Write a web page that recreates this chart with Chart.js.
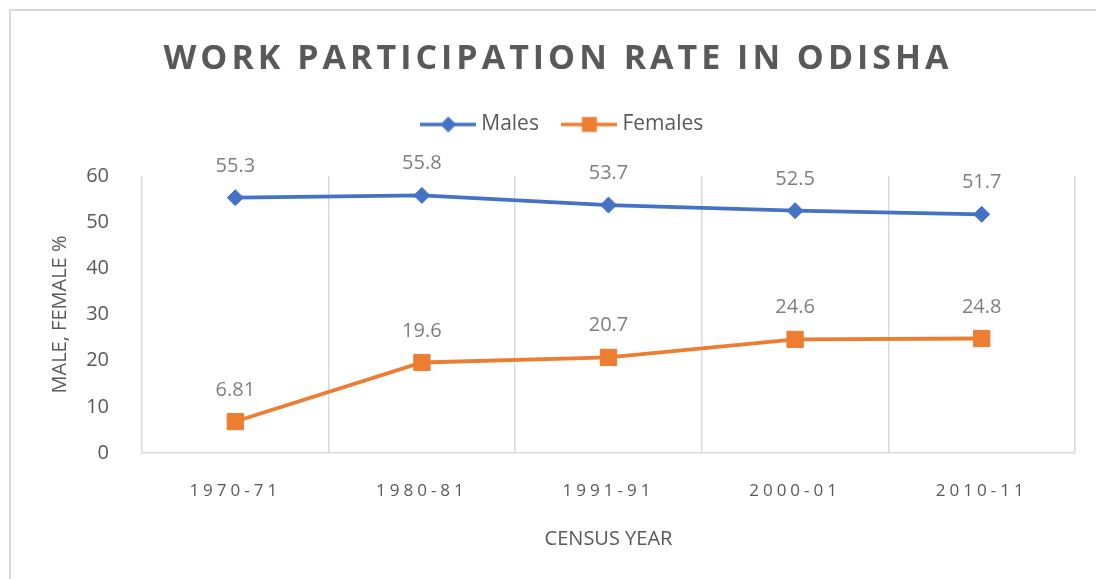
<!DOCTYPE html>
<html lang="en">
<head>
<meta charset="UTF-8">
<title>Work Participation Rate in Odisha</title>
<style>
  body { margin: 0; background: #fff; }
  .frame { position: relative; width: 1096px; height: 579px; overflow: hidden; }
  .edge { position: absolute; left: 9px; top: 9px; right: -10px; bottom: -10px;
          border-left: 2px solid #d9d9d9; border-top: 2px solid #d9d9d9; }
  canvas { position: absolute; left: 0; top: 0; }
</style>
<script src="https://cdn.jsdelivr.net/npm/chart.js"></script>
</head>
<body>
<div class="frame">
  <div class="edge"></div>
  <canvas id="wprChart" width="1096" height="579"></canvas>
</div>
<script>
const censusYears = ['1970-71', '1980-81', '1991-91', '2000-01', '2010-11'];
const males = [55.3, 55.8, 53.7, 52.5, 51.7];
const females = [6.81, 19.6, 20.7, 24.6, 24.8];
const yTicks = [0, 10, 20, 30, 40, 50, 60];

const BLUE = '#4472C4', ORANGE = '#ED7D31', GREY = '#595959';
const FONT = "'Open Sans', sans-serif";

// line + marker pictures for the legend (excel style)
function legendIcon(color, shape) {
    const c = document.createElement('canvas');
    c.width = 56; c.height = 20;
    const g = c.getContext('2d');
    g.strokeStyle = color; g.fillStyle = color; g.lineWidth = 3.5;
    g.beginPath(); g.moveTo(0, 10); g.lineTo(56, 10); g.stroke();
    if (shape === 'diamond') {
        g.beginPath(); g.moveTo(28, 2); g.lineTo(36, 10); g.lineTo(28, 18); g.lineTo(20, 10); g.closePath(); g.fill();
    } else {
        g.fillRect(20.5, 2.5, 15, 15);
    }
    return c;
}
const legendIcons = [legendIcon(BLUE, 'diamond'), legendIcon(ORANGE, 'square')];

const excelBits = {
    id: 'excelBits',
    beforeUpdate(chart) {
        // fixed legend height so the plot starts where excel puts it
        if (chart.legend && !chart.legend._patched) {
            const fit = chart.legend.fit;
            chart.legend.fit = function () { fit.call(this); this.height = 90; };
            chart.legend._patched = true;
        }
    },
    afterLayout(chart) {
        chart.legend.left += 27;
        chart.legend.right += 27;
    },
    beforeDraw(chart) {
        chart.ctx.letterSpacing = '0px';
    },
    afterDatasetsDraw(chart) {
        const ctx = chart.ctx;
        ctx.save();
        ctx.font = '20px ' + FONT;
        ctx.fillStyle = '#7f7f7f';
        ctx.textAlign = 'center';
        ctx.textBaseline = 'alphabetic';
        chart.data.datasets.forEach((ds, i) => {
            chart.getDatasetMeta(i).data.forEach((pt, j) => {
                ctx.fillText(String(ds.data[j]), pt.x, pt.y - 26);
            });
        });
        ctx.restore();
        // x tick labels have z:1 so they are drawn after this, spaced out
        ctx.letterSpacing = '4px';
    },
    afterDraw(chart) {
        const ctx = chart.ctx;
        ctx.save();
        ctx.letterSpacing = '4px';
        ctx.font = 'bold 34px ' + FONT;
        ctx.fillStyle = GREY;
        ctx.textAlign = 'center';
        ctx.textBaseline = 'alphabetic';
        ctx.fillText('WORK PARTICIPATION RATE IN ODISHA', 558, 69);
        ctx.restore();
        ctx.letterSpacing = '0px';
    }
};

const ctx = document.getElementById('wprChart').getContext('2d');
new Chart(ctx, {
    type: 'line',
    data: {
        labels: censusYears,
        datasets: [{
            label: 'Males',
            data: males,
            borderColor: BLUE,
            backgroundColor: BLUE,
            borderWidth: 3.8,
            pointStyle: 'rectRot',
            pointRadius: 8,
            pointBorderWidth: 1,
            pointBackgroundColor: BLUE,
            pointBorderColor: BLUE
        }, {
            label: 'Females',
            data: females,
            borderColor: ORANGE,
            backgroundColor: ORANGE,
            borderWidth: 3.8,
            pointStyle: 'rect',
            pointRadius: 11.5,
            pointBorderWidth: 1,
            pointBackgroundColor: ORANGE,
            pointBorderColor: ORANGE
        }]
    },
    options: {
        responsive: false,
        animation: false,
        layout: { padding: { top: 86, right: 21, bottom: 0, left: 0 } },
        plugins: {
            title: { display: false },
            tooltip: { enabled: false },
            legend: {
                position: 'top',
                labels: {
                    usePointStyle: true,
                    pointStyleWidth: 45,
                    padding: 28,
                    color: GREY,
                    font: { family: FONT, size: 21 },
                    generateLabels(chart) {
                        const items = Chart.defaults.plugins.legend.labels.generateLabels(chart);
                        items.forEach((it, i) => { it.pointStyle = legendIcons[i]; });
                        return items;
                    }
                }
            }
        },
        scales: {
            x: {
                offset: true,
                grid: { offset: true, color: '#d9d9d9', lineWidth: 1.5, drawTicks: false },
                border: { color: '#d9d9d9', width: 1.5 },
                ticks: { z: 1, padding: 28, color: GREY, font: { family: FONT, size: 17 } },
                title: {
                    display: true,
                    text: 'CENSUS YEAR',
                    color: GREY,
                    font: { family: FONT, size: 20 },
                    padding: { top: 0, bottom: 28 }
                },
                afterFit: s => { s.height = 126; }
            },
            y: {
                min: 0,
                max: 60,
                grid: { display: false },
                border: { display: false },
                ticks: { padding: 25, color: GREY, font: { family: FONT, size: 20 } },
                afterBuildTicks: s => { s.ticks = yTicks.map(v => ({ value: v })); },
                title: {
                    display: true,
                    text: 'MALE, FEMALE %',
                    color: GREY,
                    font: { family: FONT, size: 20 },
                    padding: { top: 48, bottom: 0 }
                },
                afterFit: s => { s.width = 142; }
            }
        }
    },
    plugins: [excelBits]
});
</script>
</body>
</html>
